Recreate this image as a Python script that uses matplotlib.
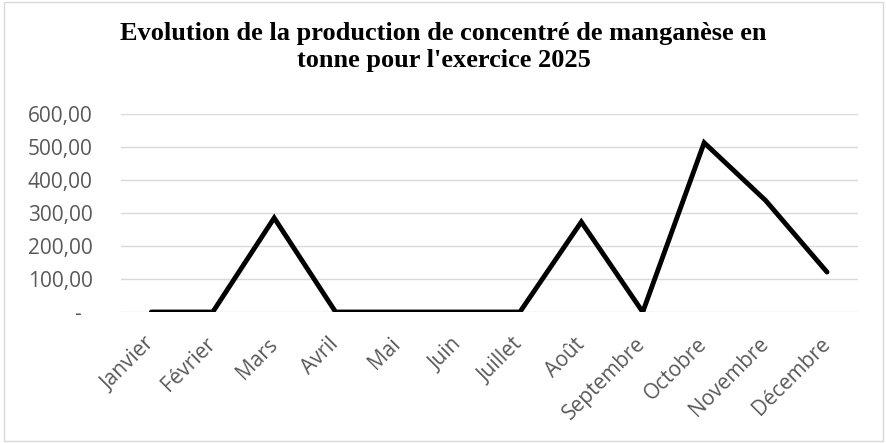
import numpy as np
import matplotlib.pyplot as plt
from matplotlib.ticker import FuncFormatter
from matplotlib.patches import Rectangle

plt.rcParams['font.family'] = ['Open Sans', 'DejaVu Sans']

# données
mois = ['Janvier', 'Février', 'Mars', 'Avril', 'Mai', 'Juin', 'Juillet',
        'Août', 'Septembre', 'Octobre', 'Novembre', 'Décembre']
production = [0, 0, 285, 0, 0, 0, 0, 273, 0, 513, 338, 121]

fig = plt.figure(figsize=(8.87, 4.43), dpi=100)
ax = fig.add_axes([0.136, 0.2957, 0.831, 0.447])

x = np.arange(len(mois))
ax.plot(x, production, color='black', linewidth=3.5,
        solid_joinstyle='miter', solid_capstyle='round', zorder=3)

ax.set_xlim(-0.5, len(mois) - 0.5)
ax.set_ylim(0, 600)
ax.set_yticks(np.arange(0, 601, 100))
ax.yaxis.set_major_formatter(FuncFormatter(
    lambda v, p: '-\u00a0\u00a0' if v == 0 else f'{v:.2f}'.replace('.', ',')))
ax.set_xticks(x)
ax.set_xticklabels(mois, rotation=45, ha='right', va='center',
                   rotation_mode='anchor')

ax.grid(axis='y', color='#d9d9d9', linewidth=1)
ax.set_axisbelow(True)
for s in ax.spines.values():
    s.set_visible(False)
ax.tick_params(axis='both', length=0, colors='#595959', labelsize=15)
ax.tick_params(axis='y', pad=20)
ax.tick_params(axis='x', pad=21)

fig.text(0.5, 0.894, "Evolution de la production de concentré de manganèse en\n"
         "tonne pour l'exercice 2025", ha='center', va='center',
         fontsize=19, fontweight='bold', family='Liberation Serif',
         linespacing=1.2)

fig.patches.append(Rectangle((0.004, 0.005), 0.992, 0.99, transform=fig.transFigure,
                             fill=False, edgecolor='#d9d9d9', linewidth=1))

fig.savefig('out.png', dpi=100)
